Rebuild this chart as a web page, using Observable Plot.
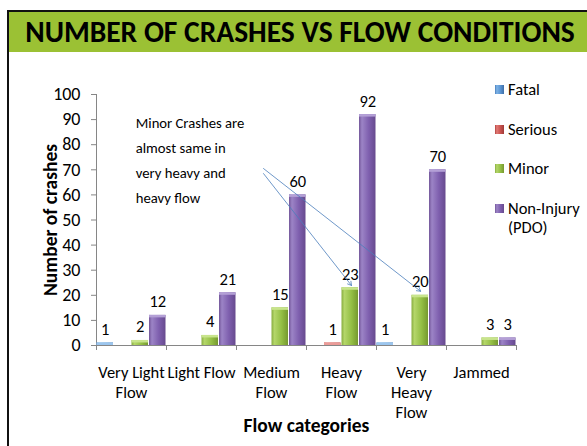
<!DOCTYPE html>
<html>
<head>
<meta charset="utf-8">
<script src="https://cdn.jsdelivr.net/npm/d3@7"></script>
<script src="https://cdn.jsdelivr.net/npm/@observablehq/plot@0.6"></script>
<style>
  html, body { margin: 0; padding: 0; background: #fff; }
  body { width: 587px; height: 446px; position: relative; overflow: hidden; font-family: Carlito, Lato, "Open Sans", sans-serif; }
  #frame { position: absolute; left: 7px; top: 10px; right: -10px; bottom: -10px; border-left: 2px solid #111; border-top: 2px solid #111; z-index: 5; pointer-events: none; }
  #title { position: absolute; left: 9px; top: 12px; right: 0; height: 40px; background: #9bc134; color: #000; font-weight: bold; font-size: 29.5px; line-height: 40px; text-align: center; z-index: 4; white-space: nowrap; padding-left: 4px; }
  #chart { position: absolute; left: 0; top: 52px; }
  #legend { position: absolute; left: 495px; top: 80px; font-size: 16.5px; color: #000; z-index: 3; }
  .li { position: absolute; left: 0; white-space: nowrap; }
  .sw { position: absolute; left: 0; width: 9px; height: 9px; }
  .lt { position: absolute; left: 13px; line-height: 19px; }
</style>
</head>
<body>
<div id="frame"></div>
<div id="title">NUMBER OF CRASHES VS FLOW CONDITIONS</div>
<div id="chart"></div>
<div id="legend"></div>
<script>
// ---- data ----
const categories = ["Very Light Flow", "Light Flow", "Medium Flow", "Heavy Flow", "Very Heavy Flow", "Jammed"];
const categoryLabels = ["Very Light\nFlow", "Light Flow", "Medium\nFlow", "Heavy\nFlow", "Very\nHeavy\nFlow", "Jammed"];
const series = ["Fatal", "Serious", "Minor", "Non-Injury (PDO)"];
const legendLabels = ["Fatal", "Serious", "Minor", "Non-Injury\n(PDO)"];
const fatal   = [1, 0, 0, 0, 1, 0];
const serious = [0, 0, 0, 1, 0, 0];
const minor   = [2, 4, 15, 23, 20, 3];
const pdo     = [12, 21, 60, 92, 70, 3];
const yTicks = [0, 10, 20, 30, 40, 50, 60, 70, 80, 90, 100];
const noteText = "Minor Crashes are\nalmost same in\nvery heavy and\nheavy flow";
// annotation anchor and arrows, in chart units (category index, crashes)
const notePos = [{x: 0.56, y: 93.8}];
const arrows = [
  {x1: 2.386, y1: 70.5, x2: 4.63, y2: 21.6},
  {x1: 2.386, y1: 68.5, x2: 3.643, y2: 23.9}
];

// ---- styling ----
const gradIds = ["gFatal", "gSerious", "gMinor", "gPdo"];
const gradStops = [
  ["#4a7ebb", "#7db3e6", "#5b95d3", "#3f6fa8"],
  ["#b0413e", "#e27a76", "#c9534f", "#a13a37"],
  ["#88ad3f", "#b4d66a", "#94bf45", "#76992f"],
  ["#73569a", "#9c84c6", "#7e5fae", "#674a8e"]
];
const capColors = ["#9cc6ee", "#eb9c99", "#c8e48c", "#b4a0d6"];

const values = [fatal, serious, minor, pdo];
const rows = [];
series.forEach((s, si) => {
  categories.forEach((c, ci) => {
    rows.push({category: c, ci, series: s, si, value: values[si][ci]});
  });
});
const bars = rows.filter(d => d.value > 0);

const W = 587, H = 394;
const plot = Plot.plot({
  width: W,
  height: H,
  marginTop: 42,
  marginBottom: 101,
  marginLeft: 96,
  marginRight: 71,
  style: {fontFamily: "Carlito, Lato, 'Open Sans', sans-serif", fontSize: "16px", color: "#000", background: "#fff"},
  x: {domain: [0, categories.length], axis: null},
  y: {domain: [0, 100], axis: null},
  color: {domain: series, range: gradIds.map(g => `url(#${g})`)},
  marks: [
    // y axis
    Plot.ruleX([0], {stroke: "#868686"}),
    Plot.axisY({ticks: yTicks, tickSize: 5, tickPadding: 11, stroke: "#868686", fontSize: 18, label: null}),
    Plot.text(["Number of crashes"], {frameAnchor: "left", textAnchor: "middle", lineAnchor: "middle", rotate: -90, dx: -46, fontWeight: "bold", fontSize: 19.5}),
    // x axis
    Plot.ruleY([0], {stroke: "#868686"}),
    Plot.ruleX(d3.range(categories.length + 1), {y1: 0, y2: 0, insetBottom: -5, stroke: "#868686"}),
    Plot.text(categoryLabels, {x: (d, i) => i + 0.5, y: 0, text: d => d, lineAnchor: "top", dy: 18, lineHeight: 1.22, fontSize: 16.5}),
    Plot.text(["Flow categories"], {frameAnchor: "bottom", dy: 86, fontWeight: "bold", fontSize: 19.5}),
    // bars
    Plot.rectY(bars, {x1: d => d.ci + d.si * 0.25, x2: d => d.ci + (d.si + 1) * 0.25, y1: 0, y2: "value", fill: "series", insetLeft: 0.5, insetRight: 0.5}),
    Plot.rectY(bars, {x1: d => d.ci + d.si * 0.25, x2: d => d.ci + (d.si + 1) * 0.25, y1: "value", y2: "value", insetBottom: -2.5, insetLeft: 0.5, insetRight: 0.5, fill: d => capColors[d.si]}),
    // value labels
    Plot.text(bars, {x: d => d.ci + (d.si + 0.5) * 0.25, y: "value", text: d => String(d.value), lineAnchor: "bottom", dy: -8, fontSize: 16.5}),
    // annotation
    Plot.text(notePos, {x: "x", y: "y", text: () => noteText, textAnchor: "start", lineAnchor: "top", lineHeight: 1.7, fontSize: 14.7}),
    Plot.arrow(arrows, {x1: "x1", y1: "y1", x2: "x2", y2: "y2", stroke: "#4a7ebb", strokeWidth: 0.8, headLength: 8, bend: 0})
  ]
});

// gradients
const ns = "http://www.w3.org/2000/svg";
const defs = document.createElementNS(ns, "defs");
gradIds.forEach((id, i) => {
  const g = document.createElementNS(ns, "linearGradient");
  g.setAttribute("id", id);
  g.setAttribute("x1", "0"); g.setAttribute("x2", "1"); g.setAttribute("y1", "0"); g.setAttribute("y2", "0");
  [[0, 0], [0.18, 1], [0.6, 2], [1, 3]].forEach(([o, k]) => {
    const s = document.createElementNS(ns, "stop");
    s.setAttribute("offset", o);
    s.setAttribute("stop-color", gradStops[i][k]);
    g.appendChild(s);
  });
  defs.appendChild(g);
});
plot.insertBefore(defs, plot.firstChild);
document.getElementById("chart").appendChild(plot);

// legend
const legend = document.getElementById("legend");
const legendY = [9, 49, 88, 128];
series.forEach((s, i) => {
  const item = document.createElement("div");
  item.className = "li";
  item.style.top = (legendY[i] - 9) + "px";
  const sw = document.createElement("div");
  sw.className = "sw";
  sw.style.top = "5px";
  sw.style.background = `linear-gradient(to right, ${gradStops[i][0]}, ${gradStops[i][1]} 20%, ${gradStops[i][2]} 60%, ${gradStops[i][3]})`;
  const t = document.createElement("div");
  t.className = "lt";
  t.style.whiteSpace = "pre";
  t.textContent = legendLabels[i];
  item.appendChild(sw);
  item.appendChild(t);
  legend.appendChild(item);
});
</script>
</body>
</html>
